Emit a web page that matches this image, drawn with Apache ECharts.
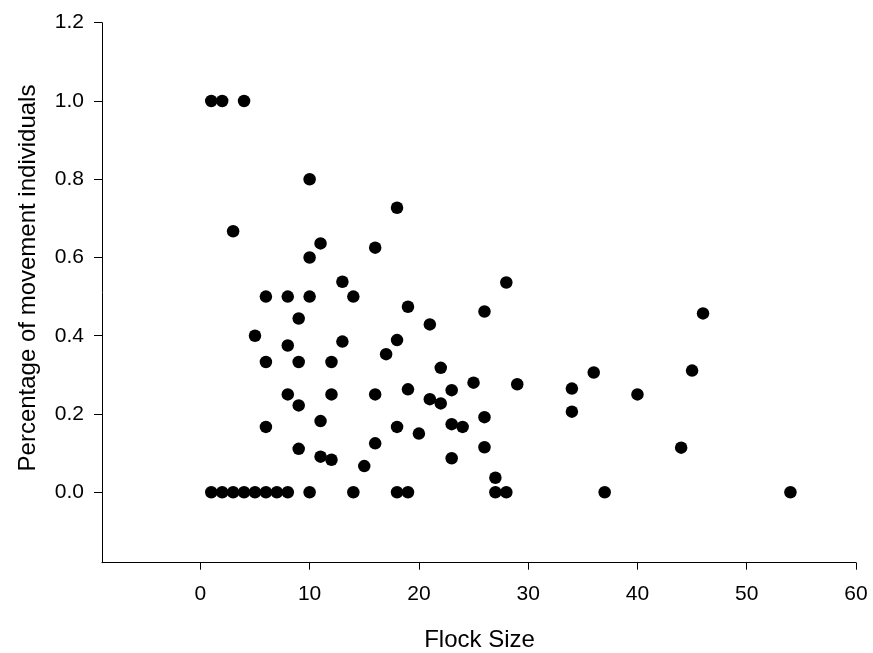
<!DOCTYPE html>
<html>
<head>
<meta charset="utf-8">
<title>Flock Size vs movement individuals</title>
<script src="https://cdn.jsdelivr.net/npm/echarts@6/dist/echarts.min.js"></script>
<style>
  html, body { margin: 0; padding: 0; background: #ffffff; }
  #chart { width: 873px; height: 653px; }
</style>
</head>
<body>
<div id="chart"></div>
<script>
// Flock size of each observed flock
const flockSize = [
  1, 2, 4,
  10, 18, 3, 11, 16, 10, 13, 28,
  6, 8, 10, 14, 19, 26, 46, 9, 21, 5,
  18, 13, 8, 17, 6, 9, 12, 22, 45, 36,
  25, 29, 34, 19, 23, 8, 12, 16, 40, 21,
  22, 9, 34, 26, 11, 23, 6, 18, 24, 20,
  16, 26, 44, 9, 11, 23, 12, 15, 27,
  1, 2, 3, 4, 5, 6, 7, 8, 10, 14, 18, 19, 27, 28, 37, 54
];
// Share of individuals moving within that flock
const movingShare = [
  1.0, 1.0, 1.0,
  0.8, 0.727, 0.667, 0.636, 0.625, 0.6, 0.538, 0.536,
  0.5, 0.5, 0.5, 0.5, 0.474, 0.462, 0.457, 0.444, 0.429, 0.4,
  0.389, 0.385, 0.375, 0.353, 0.333, 0.333, 0.333, 0.318, 0.311, 0.306,
  0.28, 0.276, 0.265, 0.263, 0.261, 0.25, 0.25, 0.25, 0.25, 0.238,
  0.227, 0.222, 0.206, 0.192, 0.182, 0.174, 0.167, 0.167, 0.167, 0.15,
  0.125, 0.115, 0.114, 0.111, 0.091, 0.087, 0.083, 0.067, 0.037,
  0, 0, 0, 0, 0, 0, 0, 0, 0, 0, 0, 0, 0, 0, 0, 0
];
// Tick positions on each axis
const xTicks = [0, 10, 20, 30, 40, 50, 60];
const yTicks = [0, 0.2, 0.4, 0.6, 0.8, 1.0, 1.2];

const xTitle = 'Flock Size';
const yTitle = 'Percentage of movement individuals';

const points = flockSize.map((x, i) => [x, movingShare[i]]);
const FONT = '"Liberation Sans", Arial, Helvetica, sans-serif';

const chart = echarts.init(document.getElementById('chart'), null, { renderer: 'canvas' });

chart.setOption({
  backgroundColor: '#ffffff',
  animation: false,
  grid: { left: 102, right: 17, top: 22.7, bottom: 90.3, containLabel: false },
  xAxis: {
    type: 'value',
    min: -9,
    max: 60,
    splitLine: { show: false },
    axisLine: { onZero: false, lineStyle: { color: '#000', width: 1 } },
    axisTick: { show: true, length: 7, customValues: xTicks, lineStyle: { color: '#000', width: 1 } },
    axisLabel: {
      customValues: xTicks,
      margin: 21,
      color: '#000',
      fontFamily: FONT,
      fontSize: 21
    }
  },
  yAxis: {
    type: 'value',
    min: -0.18,
    max: 1.2,
    splitLine: { show: false },
    axisLine: { onZero: false, lineStyle: { color: '#000', width: 1 } },
    axisTick: { show: true, length: 8, customValues: yTicks, lineStyle: { color: '#000', width: 1 } },
    axisLabel: {
      customValues: yTicks,
      margin: 18,
      color: '#000',
      fontFamily: FONT,
      fontSize: 21,
      formatter: v => v.toFixed(1)
    }
  },
  graphic: [
    {
      type: 'text',
      x: 479.5,
      y: 640,
      style: {
        text: xTitle,
        fill: '#000',
        font: '24px ' + FONT,
        textAlign: 'center',
        textVerticalAlign: 'middle'
      }
    },
    {
      type: 'text',
      x: 28,
      y: 278,
      rotation: Math.PI / 2,
      style: {
        text: yTitle,
        fill: '#000',
        font: '24px ' + FONT,
        textAlign: 'center',
        textVerticalAlign: 'middle'
      }
    }
  ],
  series: [{
    type: 'scatter',
    data: points,
    symbol: 'circle',
    symbolSize: 12.5,
    itemStyle: { color: '#000', opacity: 1 },
    emphasis: { disabled: true }
  }]
});
</script>
</body>
</html>
